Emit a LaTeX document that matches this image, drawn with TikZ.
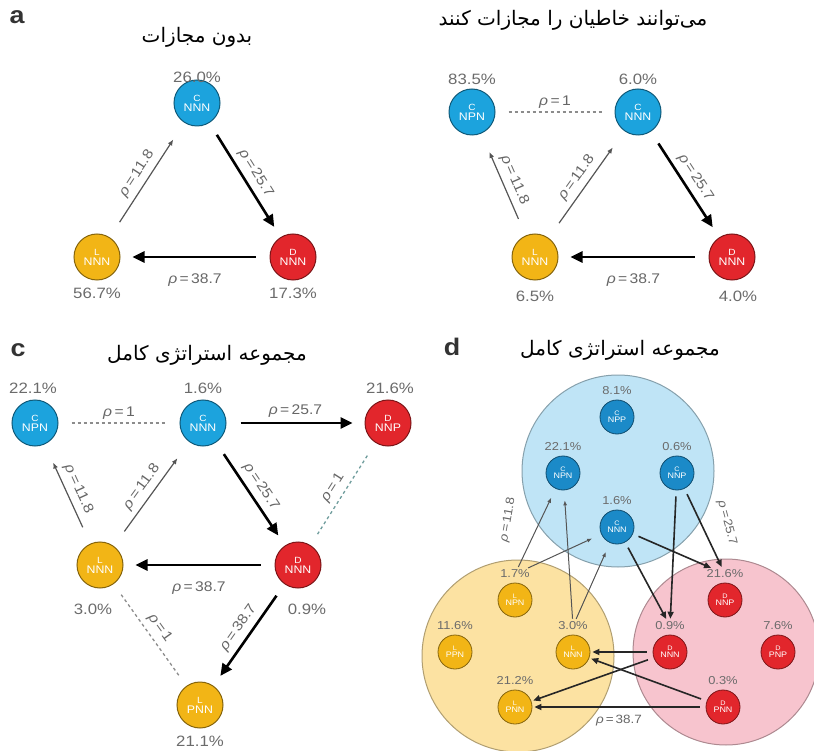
\documentclass[tikz,border=0pt]{standalone}
\usepackage{fontspec}
\setmainfont[FakeStretch=1.12]{Liberation Sans}
\newfontfamily\persianfont[Script=Arabic]{DejaVu Sans}
\TeXXeTstate=1
\usetikzlibrary{arrows.meta}

\definecolor{coopBlue}{HTML}{1CA3DD}
\definecolor{coopBlueDark}{HTML}{1B8AC8}
\definecolor{defRed}{HTML}{E2262C}
\definecolor{lonYellow}{HTML}{F2B516}
\definecolor{setBlue}{HTML}{BFE4F6}
\definecolor{setYellow}{HTML}{FCE2A2}
\definecolor{setPink}{HTML}{F7C4CE}
\definecolor{pctGray}{HTML}{6B6B6B}
\definecolor{rhoGray}{HTML}{666666}
\definecolor{lineGray}{HTML}{555555}
\definecolor{dashGray}{HTML}{8C8C8C}
\definecolor{dashTeal}{HTML}{6E9C9C}
\definecolor{letterGray}{HTML}{333333}

\newcommand{\rhoeq}[1]{{\itshape ρ}\,=\,#1}

\begin{document}
\begin{tikzpicture}
[x=1pt,y=-1pt,
  stratNode/.style={shape=circle,minimum size=46pt,inner sep=0pt,fill=#1,draw=#1!55!black,line width=1pt,text=white,align=center,font=\fontsize{11}{10}\selectfont},%
  stratSmall/.style={shape=circle,minimum size=34pt,inner sep=0pt,fill=#1,draw=#1!55!black,line width=0.8pt,text=white,align=center,font=\fontsize{8}{7}\selectfont},%
  setCircle/.style 2 args={shape=circle,minimum size=#2,inner sep=0pt,fill=#1,draw=#1!70!black,line width=1pt},%
  pctText/.style={text=pctGray,font=\fontsize{15}{15}\selectfont,inner sep=0pt},%
  pctSmall/.style={text=pctGray,font=\fontsize{11.5}{11.5}\selectfont,inner sep=1pt},%
  rhoText/.style={text=rhoGray,font=\fontsize{14}{14}\selectfont,inner sep=1pt},%
  rhoSmall/.style={text=rhoGray,font=\fontsize{12}{12}\selectfont,inner sep=1pt},%
  titleText/.style={font=\persianfont\fontsize{20}{20}\selectfont,inner sep=0pt},%
  panelLetter/.style={font=\bfseries\fontsize{24}{24}\selectfont,text=letterGray,inner sep=0pt},%
  thinArrow/.style={draw=lineGray,line width=1.2pt,-{Latex[length=6pt,width=5pt]},shorten <=18pt,shorten >=20pt},%
  thickArrow/.style={draw=black,line width=2.6pt,-{Triangle[length=12pt,width=11pt]},shorten <=14pt,shorten >=12pt},%
  dashLine/.style={draw=#1,line width=1.3pt,dash pattern=on 3pt off 3pt,shorten <=13pt,shorten >=13pt},%
  thinSmall/.style={draw=lineGray,line width=1pt,-{Latex[length=5pt,width=4pt]},shorten <=2pt,shorten >=10pt},%
  thickSmall/.style={draw=black!85,line width=1.6pt,-{Triangle[length=7pt,width=6pt]},shorten <=6pt,shorten >=2pt}]
\useasboundingbox (0,0) rectangle (814,751);

%% panel letters and titles
\node[panelLetter] (aLetter) at (17,17) {a};
\node[panelLetter] (cLetter) at (18,350) {c};
\node[panelLetter] (dLetter) at (452,347) {d};
\node[titleText] (aTitle) at (197,37) {\beginR بدون مجازات\endR};
\node[titleText] (bTitle) at (573,20) {\beginR می‌توانند خاطیان را مجازات کنند\endR};
\node[titleText] (cTitle) at (207,355) {\beginR مجموعه استراتژی کامل\endR};
\node[titleText] (dTitle) at (620,350) {\beginR مجموعه استراتژی کامل\endR};

%% strategy nodes, panels a to c
\foreach \nodename/\x/\y/\lett/\strat/\col in {aC/197/103/C/NNN/coopBlue, aL/97/257/L/NNN/lonYellow, aD/293/257/D/NNN/defRed,
  bCP/472/112/C/NPN/coopBlue, bCN/638/112/C/NNN/coopBlue, bL/535/257/L/NNN/lonYellow, bD/732/257/D/NNN/defRed,
  cCP/35/423/C/NPN/coopBlue, cCN/203/423/C/NNN/coopBlue, cDP/388/423/D/NNP/defRed,
  cL/100/565/L/NNN/lonYellow, cD/298/565/D/NNN/defRed, cLP/200/705/L/PNN/lonYellow} {
  \node (\nodename) at (\x,\y) [stratNode=\col] {{\fontsize{9}{9}\selectfont\lett}\\\strat};
}
%% frequencies
\foreach \pname/\x/\y/\pct in {aCpct/197/77/26.0, aLpct/97/293/56.7, aDpct/293/293/17.3,
  bCPpct/472/79/83.5, bCNpct/638/79/6.0, bLpct/535/296/6.5, bDpct/738/296/4.0,
  cCPpct/33/388/22.1, cCNpct/203/388/1.6, cDPpct/390/388/21.6,
  cLpct/93/609/3.0, cDpct/307/609/0.9, cLPpct/200/741/21.1} {
  \node (\pname) at (\x,\y) [pctText] {\pct\%};
}

%% edges, panel a
\path
  (aL) edge[thinArrow] node[rhoText,sloped,above=4pt] (aRhoLC) {\rhoeq{11.8}} (aC)
  (aC) edge[thickArrow] node[rhoText,sloped,above=4pt] (aRhoCD) {\rhoeq{25.7}} (aD)
  (aD) edge[thickArrow] node[rhoText,below=14pt] (aRhoDL) {\rhoeq{38.7}} (aL);

%% edges, panel b
\path
  (bCP) edge[dashLine=dashGray] node[rhoText,above=2pt] (bRhoCC) {\rhoeq{1}} (bCN)
  (bL) edge[thinArrow] node[rhoText,sloped,above=4pt] (bRhoLP) {\rhoeq{11.8}} (bCP)
  (bL) edge[thinArrow] node[rhoText,sloped,above=4pt] (bRhoLN) {\rhoeq{11.8}} (bCN)
  (bCN) edge[thickArrow] node[rhoText,sloped,above=4pt] (bRhoCD) {\rhoeq{25.7}} (bD)
  (bD) edge[thickArrow] node[rhoText,below=14pt] (bRhoDL) {\rhoeq{38.7}} (bL);

%% edges, panel c
\path
  (cCP) edge[dashLine=dashGray] node[rhoText,above=2pt] (cRhoCC) {\rhoeq{1}} (cCN)
  (cCN) edge[thickArrow] node[rhoText,above=3pt] (cRhoCDP) {\rhoeq{25.7}} (cDP)
  (cL) edge[thinArrow] node[rhoText,sloped,above=4pt] (cRhoLP) {\rhoeq{11.8}} (cCP)
  (cL) edge[thinArrow] node[rhoText,sloped,above=4pt] (cRhoLN) {\rhoeq{11.8}} (cCN)
  (cCN) edge[thickArrow] node[rhoText,sloped,above=4pt] (cRhoCD) {\rhoeq{25.7}} (cD)
  (cD) edge[dashLine=dashTeal] node[rhoText,sloped,above=4pt] (cRhoDD) {\rhoeq{1}} (cDP)
  (cD) edge[thickArrow] node[rhoText,below=14pt] (cRhoDL) {\rhoeq{38.7}} (cL)
  (cD) edge[thickArrow] node[rhoText,sloped,above=4pt] (cRhoDLP) {\rhoeq{38.7}} (cLP)
  (cL) edge[dashLine=dashGray] node[rhoText,sloped,above=4pt] (cRhoLL) {\rhoeq{1}} (cLP);

%% panel d: strategy sets
\node (dSetC) at (618,471) [setCircle={setBlue}{192pt}] {};
\node (dSetL) at (518,656) [setCircle={setYellow}{192pt}] {};
\node (dSetD) at (726,652) [setCircle={setPink}{186pt}] {};

\foreach \nodename/\x/\y/\lett/\strat/\col/\pct in {dCnpp/617/417/C/NPP/coopBlueDark/8.1, dCnpn/563/473/C/NPN/coopBlueDark/22.1,
  dCnnp/677/473/C/NNP/coopBlueDark/0.6, dCnnn/617/527/C/NNN/coopBlueDark/1.6,
  dLnpn/515/600/L/NPN/lonYellow/1.7, dLppn/455/652/L/PPN/lonYellow/11.6,
  dLnnn/573/652/L/NNN/lonYellow/3.0, dLpnn/515/707/L/PNN/lonYellow/21.2,
  dDnnp/725/600/D/NNP/defRed/21.6, dDnnn/670/652/D/NNN/defRed/0.9,
  dDpnp/778/652/D/PNP/defRed/7.6, dDpnn/723/707/D/PNN/defRed/0.3} {
  \node (\nodename) at (\x,\y) [stratSmall=\col] {{\fontsize{6.5}{6.5}\selectfont\lett}\\\strat};
  \node (\nodename pct) at (\x,{\y-26}) [pctSmall] {\pct\%};
}

%% edges, panel d
\path
  (dLnpnpct) edge[thinSmall] (dCnpn)
  (dLnpnpct) edge[thinSmall] (dCnnn)
  (dLnnnpct) edge[thinSmall] (dCnpn)
  (dLnnnpct) edge[thinSmall] (dCnnn)
  (dCnnn) edge[thickSmall] (dDnnppct)
  (dCnnn) edge[thickSmall] (dDnnnpct)
  (dCnnp) edge[thickSmall] (dDnnnpct)
  (dCnnp) edge[thickSmall] (dDnnppct)
  (dDnnn) edge[thickSmall] (dLnnn)
  (dDnnn) edge[thickSmall] (dLpnn)
  (dDpnn) edge[thickSmall] (dLnnn)
  (dDpnn) edge[thickSmall] node[rhoSmall,below=6pt] (dRhoDL) {\rhoeq{38.7}} (dLpnn);
\node[rhoSmall,rotate=80] (dRhoLC) at (508,520) {\rhoeq{11.8}};
\node[rhoSmall,rotate=-75] (dRhoCD) at (727,523) {\rhoeq{25.7}};
\end{tikzpicture}
\end{document}
